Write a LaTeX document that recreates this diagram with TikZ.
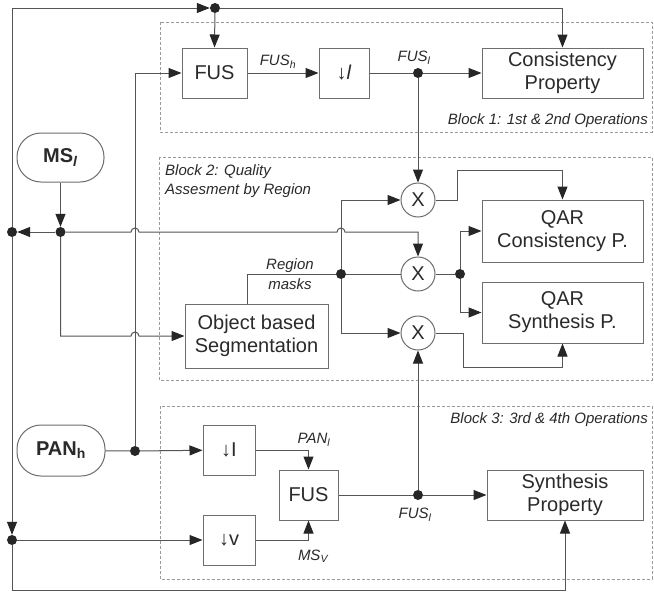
\documentclass[tikz,border=0pt]{standalone}
\usepackage{fontspec}
\setmainfont{Liberation Sans}
\usetikzlibrary{arrows.meta}
\definecolor{lc}{HTML}{555555}
\definecolor{bc}{HTML}{6E6E6E}
\definecolor{tc}{HTML}{2A2A2A}
\definecolor{dc}{HTML}{9A9A9A}
\begin{document}
\begin{tikzpicture}[x=1pt,y=-1pt,
  ln/.style={draw=lc,line width=1pt},
  arr/.style={ln,-{Triangle[length=13pt,width=10pt,color=black!85]}},
  box/.style={draw=bc,line width=1pt,fill=white,rectangle,align=center,inner sep=0pt,text=tc,font=\fontsize{20}{23}\selectfont},
  term/.style={box,rounded corners=24pt},
  mult/.style={draw=bc,line width=1pt,circle,minimum size=34pt,inner sep=0pt,fill=white,text=tc,font=\fontsize{20}{23}\selectfont},
  dot/.style={circle,fill=black!85,inner sep=0pt,minimum size=10pt},
  lab/.style={text=tc,font=\fontsize{15}{19}\selectfont\itshape,inner sep=0pt},
  blk/.style={draw=dc,line width=0.8pt,dash pattern=on 3pt off 2pt}]
\fill[white] (0,0) rectangle (654,592);
\useasboundingbox (0,0) rectangle (654,592);
% blocks
\draw[blk] (160,22) rectangle (652,132);
\draw[blk] (159,157) rectangle (652,380);
\draw[blk] (160,406) rectangle (652,579);
% nodes
\node[box,minimum width=65pt,minimum height=50pt] (fus1) at (214.5,73) {FUS};
\node[box,minimum width=50pt,minimum height=50pt] (dl1) at (344,73) {↓\textit{l}};
\node[box,minimum width=161pt,minimum height=50pt] (cons) at (562.5,73) {Consistency\\Property};
\node[mult] (x1) at (418,200) {X};
\node[mult] (x2) at (418,274) {X};
\node[mult] (x3) at (418,333) {X};
\node[box,minimum width=161pt,minimum height=62pt] (qarc) at (562.5,231) {QAR\\Consistency P.};
\node[box,minimum width=161pt,minimum height=61pt] (qars) at (562.5,312.5) {QAR\\Synthesis P.};
\node[box,minimum width=143pt,minimum height=64pt] (seg) at (256.5,336) {Object based\\Segmentation};
\node[term,minimum width=87pt,minimum height=49pt] (ms) at (60.5,157.5) {\textbf{MS\textsubscript{\textit{l}}}};
\node[term,minimum width=88pt,minimum height=51pt] (pan) at (61,450.5) {\textbf{PAN\textsubscript{h}}};
\node[box,minimum width=52pt,minimum height=50pt] (dI) at (229,450) {↓I};
\node[box,minimum width=52pt,minimum height=50pt] (dv) at (229,540) {↓v};
\node[box,minimum width=59pt,minimum height=50pt] (fus2) at (308.5,495) {FUS};
\node[box,minimum width=156pt,minimum height=50pt] (syn) at (565,495) {Synthesis\\Property};
% dots
\node[dot] (dtop) at (215,8) {};
\node[dot] (dfl) at (418,73) {};
\node[dot] (dleft1) at (12,232) {};
\node[dot] (dms) at (60.5,232) {};
\node[dot] (dpan) at (135,451) {};
\node[dot] (dleft2) at (12,540) {};
\node[dot] (dreg) at (341,274) {};
\node[dot] (dq) at (460,274) {};
\node[dot] (dfl2) at (418,495) {};
% labels
\node[lab] (lfush) at (278,62) {FUS\textsubscript{h}};
\node[lab] (lfusl) at (414,58) {FUS\textsubscript{l}};
\node[lab,anchor=east] (lb1) at (648,121) {Block 1: 1st \& 2nd Operations};
\node[lab,anchor=north west,align=left] (lb2) at (165,164) {Block 2: Quality\\Assesment by Region};
\node[lab,align=center] (lreg) at (290,274) {Region\\[1pt]masks};
\node[lab,anchor=east] (lb3) at (648,420) {Block 3: 3rd \& 4th Operations};
\node[lab] (lpan) at (314,440) {PAN\textsubscript{l}};
\node[lab] (lmsv) at (313,556) {MS\textsubscript{V}};
\node[lab] (lfusl2) at (415,515) {FUS\textsubscript{l}};
% connectors
\draw[arr] (dleft1) |- (dtop);
\draw[arr] (dtop) -| (cons.north);
\draw[arr] (dtop) -- (fus1.north);
\draw[arr] (fus1) -- (dl1);
\draw[ln] (dl1) -- (dfl);
\draw[arr] (dfl) -- (cons);
\draw[arr] (dfl) -- (x1);
\draw[arr] (ms) -- (dms);
\draw[arr] (dms) -- (dleft1);
\draw[arr] (dleft1) -- (dleft2);
\draw[arr] (dleft2) -- (dv);
\draw[arr] (dleft2) -- (12,590) -| (syn.south);
\draw[arr] (dms) -- (131,232) arc[start angle=180,end angle=0,radius=4pt] -- (337,232) arc[start angle=180,end angle=0,radius=4pt] -| (x2.north);
\draw[arr] (dms) -- (60.5,336) -- (131,336) arc[start angle=180,end angle=0,radius=4pt] -- (seg.west);
\draw[arr] (dpan) |- (fus1.west);
\draw[ln] (pan) -- (dpan);
\draw[arr] (dpan) -- (dI);
\draw[arr] (dI) -| (fus2.north);
\draw[arr] (dv) -| (fus2.south);
\draw[ln] (fus2) -- (dfl2);
\draw[arr] (dfl2) -- (syn);
\draw[arr] (dfl2) -- (x3.south);
\draw[ln] (247,304) |- (dreg);
\draw[ln] (dreg) -- (x2);
\draw[arr] (dreg) |- (x1.west);
\draw[arr] (dreg) |- (x3.west);
\draw[arr] (x1.east) -- (457,200) -- (457,170) -| (qarc.north);
\draw[ln] (x2) -- (dq);
\draw[arr] (dq) |- (qarc.west);
\draw[arr] (dq) |- (qars.west);
\draw[arr] (x3.east) -- (463,333) -- (463,367) -| (qars.south);
\end{tikzpicture}
\end{document}
